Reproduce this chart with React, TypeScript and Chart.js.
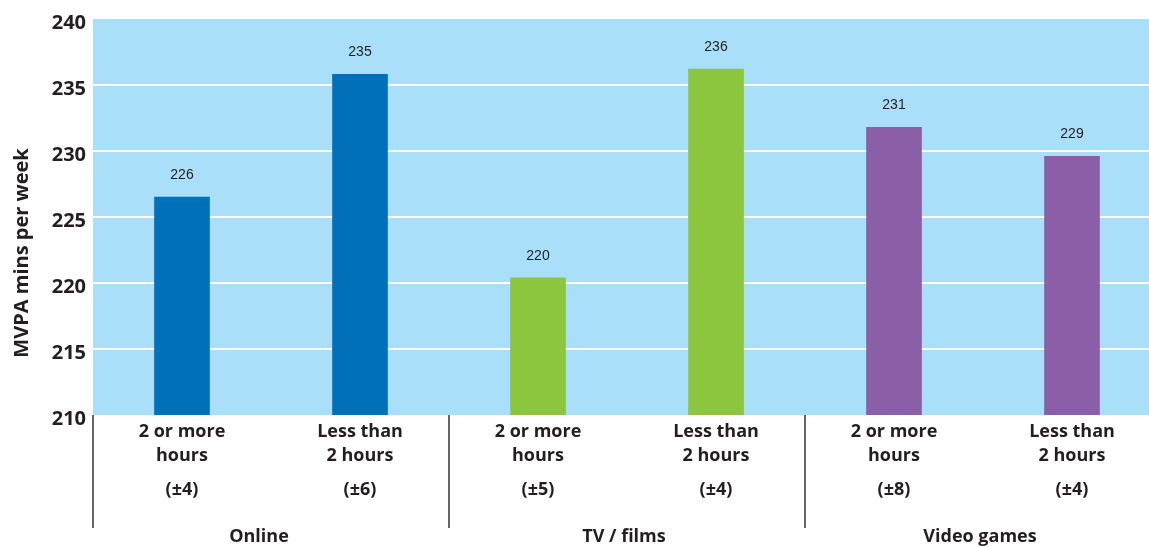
import React, { useEffect, useRef } from "react";
import { Chart, registerables } from "chart.js";

Chart.register(...registerables);

const categoryLines: string[][] = [
  ["2 or more", "hours"],
  ["Less than", "2 hours"],
  ["2 or more", "hours"],
  ["Less than", "2 hours"],
  ["2 or more", "hours"],
  ["Less than", "2 hours"],
];
const margins = ["(±4)", "(±6)", "(±5)", "(±4)", "(±8)", "(±4)"];
const groups = ["Online", "TV / films", "Video games"];
const values = [226.5, 235.8, 220.4, 236.2, 231.8, 229.6];
const valueLabels = ["226", "235", "220", "236", "231", "229"];
const yTitle = "MVPA mins per week";
const yMin = 210;
const yMax = 240;
const yStep = 5;

const groupColors = ["#0070BA", "#8CC63F", "#8B5FA8"];
const TEXT = "#231F20";
const BOLD = "bold 18px 'Open Sans', 'Noto Sans', sans-serif";

export default function App() {
  const ref = useRef<HTMLCanvasElement | null>(null);

  useEffect(() => {
    if (!ref.current) return;
    const labelsPlugin = {
      id: "custom",
      beforeDraw(chart: any) {
        const { ctx, chartArea } = chart;
        ctx.save();
        ctx.fillStyle = "#A9DFF8";
        ctx.fillRect(chartArea.left, chartArea.top, chartArea.right - chartArea.left, chartArea.bottom - chartArea.top);
        ctx.restore();
      },
      afterDraw(chart: any) {
        const { ctx, chartArea } = chart;
        const x = chart.scales.x;
        const y = chart.scales.y;
        ctx.save();
        ctx.fillStyle = TEXT;
        ctx.textAlign = "center";
        ctx.textBaseline = "middle";
        ctx.font = "14px 'Liberation Sans', Arial, sans-serif";
        values.forEach((v, i) => {
          ctx.fillText(valueLabels[i], x.getPixelForValue(i), y.getPixelForValue(v) - 22);
        });
        ctx.font = BOLD;
        categoryLines.forEach((lines, i) => {
          const cx = x.getPixelForValue(i);
          ctx.fillText(lines[0], cx, chartArea.bottom + 17);
          ctx.fillText(lines[1], cx, chartArea.bottom + 41);
          ctx.fillText(margins[i], cx, chartArea.bottom + 75);
        });
        const step = x.getPixelForValue(1) - x.getPixelForValue(0);
        groups.forEach((g, gi) => {
          const left = x.getPixelForValue(gi * 2) - step / 2;
          const center = left + step;
          ctx.fillStyle = TEXT;
          ctx.fillText(g, center - (gi === 0 ? 12 : 3), chartArea.bottom + 122);
          ctx.strokeStyle = "#333333";
          ctx.lineWidth = 1.5;
          ctx.beginPath();
          ctx.moveTo(left, chartArea.bottom);
          ctx.lineTo(left, chartArea.bottom + 113);
          ctx.stroke();
        });
        ctx.translate(22, 253);
        ctx.rotate(-Math.PI / 2);
        ctx.font = "bold 20px 'Open Sans', 'Noto Sans', sans-serif";
        ctx.fillText(yTitle, 0, 0);
        ctx.restore();
      },
    };

    const chart = new Chart(ref.current, {
      type: "bar",
      data: {
        labels: categoryLines.map((l) => l.join(" ")),
        datasets: [
          {
            data: values,
            backgroundColor: values.map((_, i) => groupColors[Math.floor(i / 2)]),
            barThickness: 55,
            borderWidth: 0,
          },
        ],
      },
      options: {
        responsive: false,
        animation: false,
        devicePixelRatio: 1,
        layout: { padding: { top: 18, left: 0, right: 0, bottom: 0 } },
        plugins: { legend: { display: false }, tooltip: { enabled: false } },
        scales: {
          x: {
            grid: { display: false },
            border: { display: false },
            ticks: { display: false },
            afterFit: (s: any) => {
              s.height = 132;
            },
          },
          y: {
            min: yMin,
            max: yMax,
            border: { display: false },
            grid: {
              drawTicks: false,
              lineWidth: 2,
              color: (c: any) =>
                c.tick && (c.tick.value === yMin || c.tick.value === yMax) ? "rgba(0,0,0,0)" : "#FFFFFF",
            },
            ticks: {
              stepSize: yStep,
              padding: 7,
              labelOffset: 4,
              color: TEXT,
              font: { family: "'Open Sans', 'Noto Sans', sans-serif", size: 20, weight: "bold" },
            },
            afterFit: (s: any) => {
              s.width = 93;
            },
          },
        },
      },
      plugins: [labelsPlugin],
    });
    return () => chart.destroy();
  }, []);

  return (
    <div style={{ position: "fixed", left: 0, top: 0, width: 1149, height: 547, overflow: "hidden", background: "#fff" }}>
      <canvas ref={ref} width={1161} height={547} style={{ width: 1161, height: 547, display: "block" }} />
    </div>
  );
}
